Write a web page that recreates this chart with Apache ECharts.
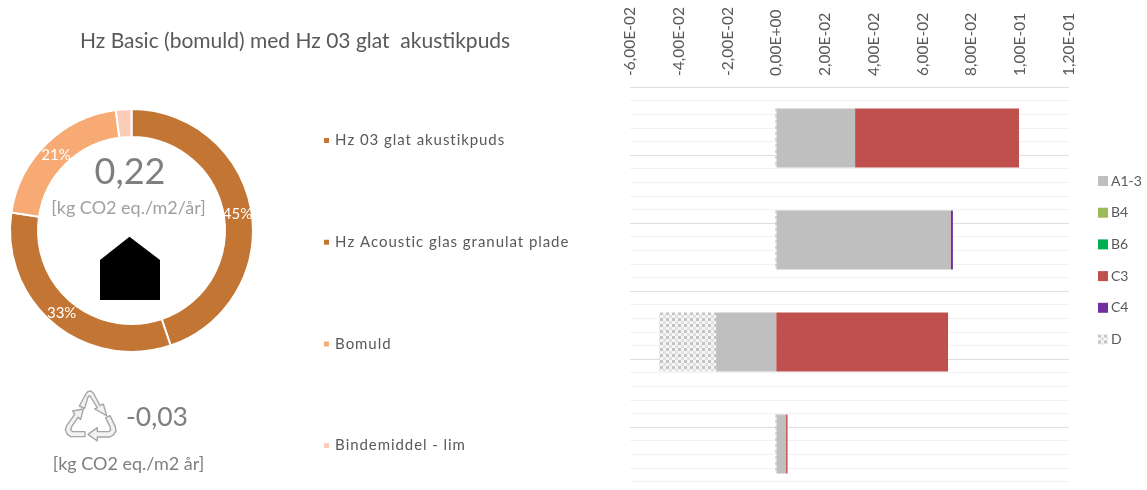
<!DOCTYPE html>
<html>
<head>
<meta charset="utf-8">
<style>html,body{margin:0;padding:0;background:#fff}#main{width:1147px;height:490px}</style>
<script src="https://cdn.jsdelivr.net/npm/echarts@6/dist/echarts.min.js"></script>
</head>
<body>
<div id="main"></div>
<script>
// data
var products = ['Hz 03 glat akustikpuds', 'Hz Acoustic glas granulat plade', 'Bomuld', 'Bindemiddel - lim'];
var shares = [0.0995, 0.0724, 0.0457, 0.0046];
var shareColors = ['#c37534', '#c37534', '#f7aa74', '#fbcdb8'];

var a13 = [0.0323, 0.0716, -0.0247, 0.0040];
var b4 = [0, 0, 0, 0];
var b6 = [0, 0, 0, 0];
var c3 = [0.0672, 0, 0.0704, 0.0006];
var c4 = [0, 0.0008, 0, 0];
var d = [-0.0004, -0.0004, -0.0234, -0.0004];

var chartTitle = 'Hz Basic (bomuld) med Hz 03 glat  akustikpuds';
var total = '0,22';
var totalUnit = '[kg CO2 eq./m2/år]';
var recycled = '-0,03';
var recycledUnit = '[kg CO2 eq./m2 år]';

// checker fill for module D
function checker() {
  var c = document.createElement('canvas');
  c.width = c.height = 12;
  var g = c.getContext('2d');
  g.fillStyle = '#f6f6f6';
  g.fillRect(0, 0, 12, 12);
  for (var i = 0; i < 4; i++) {
    for (var j = 0; j < 4; j++) {
      if ((i + j) % 2 == 0) {
        g.fillStyle = (i % 2 == 0) ? '#c4c4c4' : '#e0e0e0';
        g.fillRect(i * 3, j * 3, 3, 3);
      }
    }
  }
  return { image: c, repeat: 'repeat' };
}

// recycling icon outline, in px
function arrow(points) {
  return {
    type: 'polygon',
    shape: { points: points.map(function (p) { return [p[0] / 3 + 60, p[1] / 3 + 385]; }) },
    style: { fill: '#f2f2f2', stroke: '#a6a6a6', lineWidth: 1.4, lineJoin: 'round' }
  };
}

function text(x, y, str, size, color) {
  return {
    type: 'text', x: x, y: y,
    style: { text: str, fontSize: size, fontFamily: 'Lato', fill: color, align: 'center', verticalAlign: 'middle' }
  };
}

var barColors = ['#bfbfbf', '#9bbb59', '#00b050', '#c0504d', '#7030a0', checker()];
var barNames = ['A1-3', 'B4', 'B6', 'C3', 'C4', 'D'];
var barData = [a13, b4, b6, c3, c4, d];
var labelNudge = [[-3, 2], [1, -2], [2, 4], [0, 0]];

var myChart = echarts.init(document.getElementById('main'));

var option = {
  animation: false,
  title: {
    text: chartTitle, left: 75, top: 26,
    textStyle: { fontFamily: 'Lato', fontSize: 21, fontWeight: 'normal', color: '#595959' }
  },
  legend: [
    {
      data: products, orient: 'vertical', left: 317, top: 128,
      itemWidth: 7, itemHeight: 7, itemGap: 86.7, icon: 'rect',
      // the labels are spaced out in the original
      formatter: function (name) { return name.split('').join('\u200a'); },
      textStyle: { fontFamily: 'Lato', fontSize: 15, color: '#595959' },
      selectedMode: false
    },
    {
      data: barNames, orient: 'vertical', left: 1093, top: 169,
      itemWidth: 10, itemHeight: 10, itemGap: 17.7, icon: 'rect',
      textStyle: { fontFamily: 'Lato', fontSize: 14, color: '#595959', padding: [0, 0, 0, -2] },
      selectedMode: false
    }
  ],
  grid: { left: 630, top: 87, width: 439, height: 408, outerBoundsMode: 'none' },
  xAxis: {
    type: 'value', position: 'top', min: -0.06, max: 0.12, interval: 0.02,
    axisLine: { show: false }, axisTick: { show: false }, splitLine: { show: false },
    axisLabel: {
      rotate: 90, margin: 11, fontFamily: 'Lato', fontSize: 15.5, color: '#595959',
      formatter: function (v) {
        return v.toExponential(2).replace('.', ',').replace(/e([+-])(\d)$/, 'E$10$2');
      }
    }
  },
  yAxis: [
    {
      type: 'category', data: products, inverse: true,
      axisLine: { show: false }, axisTick: { show: false }, axisLabel: { show: false }, splitLine: { show: false }
    },
    {
      // only there for the horizontal gridlines
      type: 'value', min: 0, max: 30, interval: 5,
      axisLine: { show: false }, axisTick: { show: false }, axisLabel: { show: false },
      splitLine: { show: true, lineStyle: { color: '#dedede', width: 1 } },
      minorTick: { show: false, splitNumber: 5 },
      minorSplitLine: { show: true, lineStyle: { color: '#f2f2f2', width: 1 } }
    }
  ],
  series: barNames.map(function (name, i) {
    return {
      name: name, type: 'bar', stack: 'total', yAxisIndex: 0, barWidth: 59,
      data: barData[i], itemStyle: { color: barColors[i] }
    };
  }).concat([{
    type: 'pie', center: [131.5, 230.5], radius: [93.5, 121.5], clockwise: true, startAngle: 90,
    data: products.map(function (name, i) {
      return {
        name: name, value: shares[i],
        itemStyle: { color: shareColors[i], borderColor: '#fff', borderWidth: 2 },
        label: { show: i < 3, offset: labelNudge[i] }
      };
    }),
    label: {
      position: 'inside', color: '#fff', fontFamily: 'Lato', fontSize: 15,
      formatter: function (p) { return Math.round(p.percent) + '%'; }
    },
    labelLine: { show: false },
    emphasis: { disabled: true }
  }]),
  graphic: [
    text(130, 172, total, 36, '#7f7f7f'),
    text(128.5, 208, totalUnit, 18, '#a0a0a0'),
    text(157, 417, recycled, 26.5, '#7f7f7f'),
    text(128.5, 464, recycledUnit, 18, '#7f7f7f'),
    {
      type: 'polygon',
      shape: { points: [[100, 300], [100, 260], [129.5, 236.7], [160, 260], [160, 300]] },
      style: { fill: '#000' }
    },
    arrow([[58, 63], [76, 30], [83, 20], [92, 18], [100, 24], [120, 62], [130, 57], [140, 92], [104, 72], [112, 68], [92, 36], [88, 32], [84, 36], [74, 70]]),
    arrow([[137, 98], [150, 92], [166, 125], [168, 138], [160, 150], [150, 156], [112, 156], [112, 168], [84, 148], [112, 128], [112, 140], [146, 140], [152, 135], [150, 125]]),
    arrow([[70, 72], [38, 78], [44, 88], [20, 122], [16, 135], [22, 148], [32, 155], [75, 155], [75, 140], [38, 140], [32, 134], [35, 125], [54, 97], [62, 103]])
  ]
};

myChart.setOption(option);
</script>
</body>
</html>
